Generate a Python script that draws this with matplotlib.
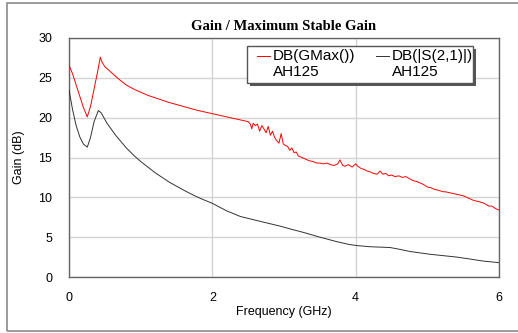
import matplotlib
matplotlib.use("Agg")
import matplotlib.pyplot as plt
from matplotlib.patches import Rectangle
from matplotlib.lines import Line2D

# ---- data ----
gmax_freq = [0.0, 0.05, 0.1, 0.15, 0.2, 0.255, 0.3, 0.35, 0.4, 0.437, 0.46, 0.5, 0.55,
             0.6, 0.7, 0.8, 0.9, 1.0, 1.1, 1.2, 1.4, 1.6, 1.8, 2.0, 2.2, 2.4, 2.45, 2.5, 2.53,
             2.55, 2.57, 2.6, 2.63, 2.66, 2.69, 2.72, 2.75, 2.78, 2.81, 2.84, 2.87,
             2.9, 2.93, 2.96, 2.99, 3.02, 3.05, 3.08, 3.11, 3.14, 3.17, 3.2, 3.25,
             3.3, 3.35, 3.4, 3.46, 3.5, 3.55, 3.6, 3.65, 3.7, 3.75, 3.78, 3.82,
             3.85, 3.9, 3.95, 4.0, 4.03, 4.08, 4.12, 4.16, 4.2, 4.25, 4.3, 4.34,
             4.38, 4.42, 4.46, 4.5, 4.55, 4.6, 4.65, 4.7, 4.76, 4.8, 4.85, 4.9,
             4.95, 5.0, 5.05, 5.1, 5.15, 5.22, 5.25, 5.3, 5.35, 5.4, 5.45, 5.5,
             5.55, 5.6, 5.65, 5.7, 5.78, 5.82, 5.86, 5.9, 5.95, 6.0]
gmax_db = [26.6, 25.5, 24.1, 22.7, 21.3, 20.1, 21.4, 23.6, 25.8, 27.6, 27.0, 26.4, 26.0,
           25.6, 24.8, 24.1, 23.6, 23.2, 22.8, 22.5, 21.9, 21.4, 20.9, 20.5, 20.1, 19.7, 19.6, 19.5, 19.2,
           18.6, 19.3, 19.0, 19.2, 18.3, 19.0, 18.6, 18.1, 18.9, 17.8, 18.3, 17.5,
           17.1, 16.8, 18.0, 16.7, 16.5, 16.4, 15.9, 16.2, 15.6, 15.7, 15.2, 15.0,
           14.8, 14.6, 14.5, 14.3, 14.3, 14.2, 14.3, 14.1, 14.0, 14.2, 14.7, 14.0,
           13.9, 14.1, 13.8, 14.2, 13.9, 13.6, 13.5, 13.3, 13.2, 13.0, 12.9, 13.3,
           12.9, 13.0, 12.7, 12.8, 12.6, 12.7, 12.5, 12.6, 12.3, 12.1, 12.0, 11.8,
           11.6, 11.3, 11.2, 11.0, 10.9, 10.7, 10.7, 10.6, 10.5, 10.4, 10.3, 10.2,
           10.0, 9.8, 9.6, 9.5, 9.3, 9.1, 8.9, 8.9, 8.6, 8.4]

s21_freq = [0.0, 0.05, 0.1, 0.15, 0.2, 0.255, 0.3, 0.35, 0.41, 0.45, 0.53, 0.65, 0.8,
            0.9, 1.0, 1.1, 1.2, 1.3, 1.4, 1.5, 1.6, 1.73, 1.85, 2.0, 2.2, 2.39, 2.66,
            2.8, 2.94, 3.1, 3.27, 3.5, 3.73, 3.9, 4.01, 4.2, 4.48, 4.6, 4.76, 5.04,
            5.2, 5.41, 5.6, 5.78, 6.0]
s21_db = [23.5, 21.0, 19.0, 17.6, 16.7, 16.3, 17.5, 19.5, 20.9, 20.6, 19.3, 17.8, 16.2,
          15.3, 14.5, 13.8, 13.1, 12.5, 11.9, 11.4, 10.9, 10.3, 9.8, 9.25, 8.3, 7.6, 7.0,
          6.7, 6.4, 6.0, 5.6, 5.0, 4.45, 4.1, 3.95, 3.8, 3.7, 3.5, 3.2, 2.85,
          2.7, 2.5, 2.25, 2.0, 1.8]

title_text = "Gain / Maximum Stable Gain"
xlabel_text = "Frequency (GHz)"
ylabel_text = "Gain (dB)"
x_ticks = [0, 2, 4, 6]
y_ticks = [0, 5, 10, 15, 20, 25, 30]
legend_labels = [("DB(GMax())", "AH125"), ("DB(|S(2,1)|)", "AH125")]
series_colors = ["#ff0000", "#333333"]

W, H = 518, 333
fig = plt.figure(figsize=(W / 100, H / 100), dpi=100)
fig.patch.set_facecolor("white")

def fx(px):
    return px / W

def fy(py):
    return 1 - py / H

# outer frame
fig.add_artist(Rectangle((fx(7), fy(331)), fx(520) - fx(7), fy(3) - fy(331),
                         transform=fig.transFigure, fill=False,
                         edgecolor="#8a8a8a", linewidth=1.2))

ax = fig.add_axes([fx(69), fy(277), fx(499) - fx(69), fy(38) - fy(277)])
ax.plot(gmax_freq, gmax_db, color=series_colors[0], linewidth=0.7, zorder=3)
ax.plot(s21_freq, s21_db, color=series_colors[1], linewidth=0.7, zorder=3)

ax.set_xlim(0, 6)
ax.set_ylim(0, 30)
ax.set_xticks(x_ticks)
ax.set_yticks(y_ticks)
ax.tick_params(length=0, labelsize=9, colors="black")
ax.tick_params(axis="x", pad=10.5)
ax.tick_params(axis="y", pad=12)
for lab in ax.get_xticklabels() + ax.get_yticklabels():
    lab.set_family("Liberation Sans")
ax.grid(True, color="#d4d4d4", linewidth=1.0, zorder=0)
ax.set_axisbelow(True)
for s in ax.spines.values():
    s.set_color("#666666")
    s.set_linewidth(1.0)

fig.text(fx(284), fy(312), xlabel_text, ha="center", va="center", fontsize=9,
         family="Liberation Sans")
fig.text(fx(19), fy(157), ylabel_text, ha="center", va="center", fontsize=9,
         family="Liberation Sans", rotation=90)
fig.text(fx(284), fy(26), title_text, ha="center", va="center",
         fontsize=10.5, fontweight="bold", family="Liberation Serif")

# legend box (drawn manually to match layout)
lx0, lx1, ly0, ly1 = 247, 473, 46, 83
fig.add_artist(Rectangle((fx(lx0 + 3), fy(ly1 + 3)), fx(lx1) - fx(lx0), fy(ly0) - fy(ly1),
                         transform=fig.transFigure, facecolor="#555555",
                         edgecolor="none", zorder=5))
fig.add_artist(Rectangle((fx(lx0), fy(ly1)), fx(lx1) - fx(lx0), fy(ly0) - fy(ly1),
                         transform=fig.transFigure, facecolor="white",
                         edgecolor="#555555", linewidth=1.0, zorder=6))
entries = [(257, 270, 273), (376, 389, 392)]
for (hx0, hx1, tx), (l1, l2), c in zip(entries, legend_labels, series_colors):
    fig.add_artist(Line2D([fx(hx0), fx(hx1)], [fy(56), fy(56)],
                          transform=fig.transFigure, color=c, linewidth=0.7, zorder=7))
    fig.text(fx(tx), fy(56), l1, ha="left", va="center", fontsize=11,
             family="Liberation Sans", zorder=7)
    fig.text(fx(tx), fy(72), l2, ha="left", va="center", fontsize=11,
             family="Liberation Sans", zorder=7)

fig.savefig("out.png", dpi=100)
